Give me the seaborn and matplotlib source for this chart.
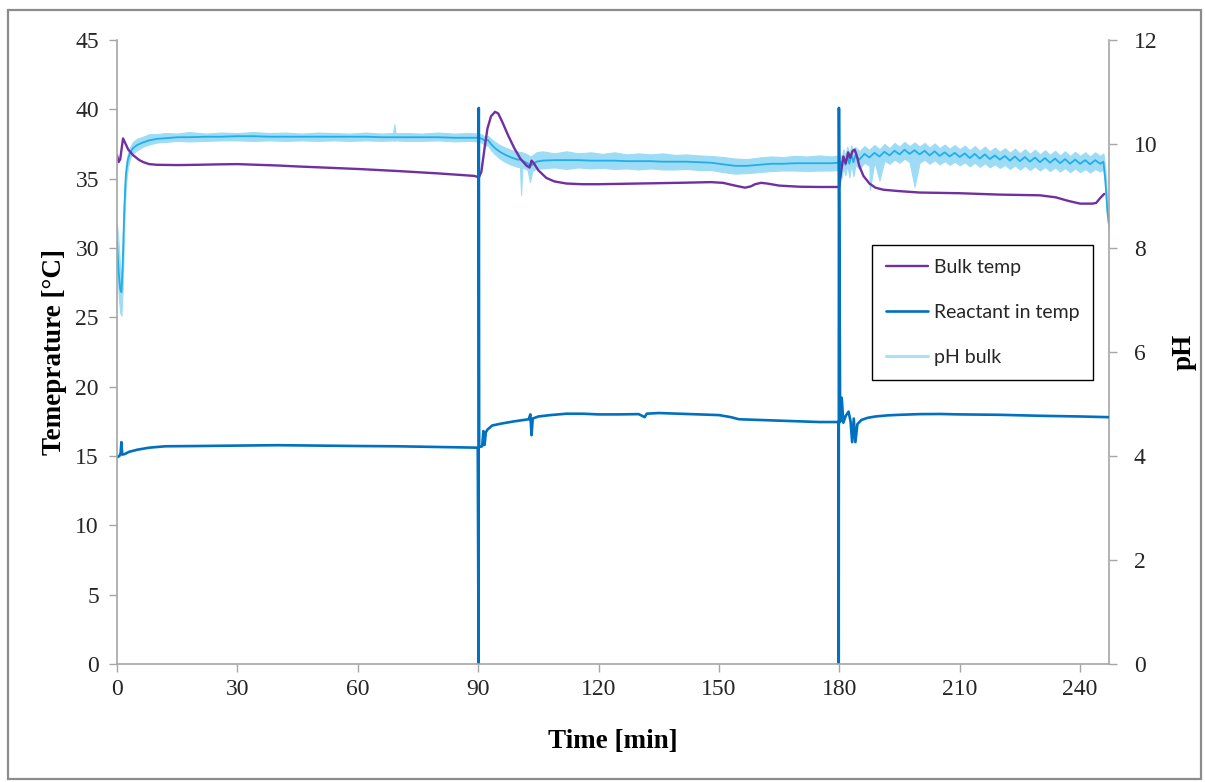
import numpy as np
import pandas as pd
import matplotlib
matplotlib.use("Agg")
import matplotlib.pyplot as plt
from matplotlib.lines import Line2D
from matplotlib.patches import Rectangle
import seaborn as sns

# ---------------- data ----------------
# Bulk temperature [°C]
bulk_time = [0, 0.4, 0.8, 1.5, 2.0, 2.8, 4.0, 5.5, 6.5, 8, 10, 15, 20, 25, 30, 35, 40, 45,
             50, 60, 70, 80, 89, 90.2, 90.8, 91.5, 92.3, 93.2, 94.2, 95.0, 96, 97.5, 99,
             100.5, 102, 102.8, 103.3, 103.9, 105, 107, 109, 112, 116, 120, 130, 140, 148,
             151, 154, 156.5, 158, 159, 160.5, 162, 165, 170, 175, 180, 180.4, 181, 181.6,
             182.2, 182.7, 183.3, 183.8, 184.3, 185, 186, 187.5, 189, 191, 195, 200, 210,
             220, 230, 234, 237, 240, 243, 244, 245, 246]
bulk_temp = [36.7, 36.2, 36.4, 37.9, 37.6, 37.1, 36.7, 36.35, 36.2, 36.05, 36.0, 35.98, 36.0,
             36.03, 36.05, 36.0, 35.95, 35.88, 35.82, 35.7, 35.55, 35.38, 35.2, 35.1, 35.5,
             37.0, 38.6, 39.5, 39.82, 39.7, 39.1, 38.1, 37.2, 36.45, 35.95, 35.8, 36.3, 36.1,
             35.6, 35.05, 34.8, 34.65, 34.6, 34.6, 34.65, 34.7, 34.75, 34.7, 34.5, 34.35,
             34.45, 34.6, 34.7, 34.65, 34.5, 34.42, 34.4, 34.4, 35.4, 36.6, 36.1, 36.9, 36.5,
             37.0, 37.1, 36.7, 35.9, 35.2, 34.65, 34.35, 34.2, 34.1, 34.0, 33.95, 33.85,
             33.8, 33.65, 33.4, 33.2, 33.2, 33.25, 33.6, 33.9]

# Reactant inlet temperature [°C] (sensor dropouts at 90 and 180 min)
react_time = [0, 0.6, 0.9, 1.1, 1.3, 2, 3, 5, 8, 12, 20, 30, 40, 50, 60, 70, 80, 89.9,
              90.1, 90.15, 90.25, 91.0, 91.3, 91.6, 91.9, 92.3, 93.5, 96, 99, 102.6, 103.0,
              103.3, 103.6, 105, 108, 112, 116, 120, 125, 130, 131.5, 132, 135, 140, 145,
              150, 153, 155, 160, 165, 170, 175, 179.8, 179.85, 179.9, 180.2, 180.6, 181.0,
              181.6, 182.3, 182.8, 183.2, 183.6, 184.0, 184.5, 185.5, 187, 189, 192, 195,
              200, 205, 210, 220, 230, 240, 247.2]
react_temp = [14.9, 15.0, 15.2, 16.0, 15.1, 15.15, 15.3, 15.45, 15.6, 15.7, 15.72, 15.75,
              15.78, 15.75, 15.72, 15.7, 15.65, 15.6, 0.0, 40.1, 15.65, 15.7, 16.8, 15.8,
              16.7, 16.9, 17.2, 17.35, 17.5, 17.65, 18.0, 16.5, 17.7, 17.85, 17.95, 18.05,
              18.05, 18.0, 18.0, 18.02, 17.8, 18.05, 18.1, 18.05, 18.0, 17.95, 17.8, 17.65,
              17.6, 17.55, 17.5, 17.45, 17.45, 0.0, 40.1, 17.45, 19.2, 17.4, 17.9, 18.2,
              17.5, 16.0, 17.7, 16.0, 17.3, 17.6, 17.75, 17.85, 17.93, 17.97, 18.02, 18.03,
              18.0, 17.97, 17.9, 17.85, 17.8]

# pH in the bulk: smoothed reading with the min / max of the raw signal
ph_time = [0.0, 0.4, 0.8, 1.1, 1.4, 1.8, 2.2, 2.7, 3.3, 4.0, 5.0, 6.5, 8.0, 10, 12, 15, 18,
           22, 26, 30, 34, 38, 42, 46, 50, 54, 58, 62, 66, 68.8, 69.1, 69.4, 72, 76, 80, 84,
           88, 90, 91, 91.7, 92.4, 93.2, 94.2, 95.4, 96.8, 98.3, 99.8, 100.4, 100.7, 101.0,
           102.3, 102.9, 103.5, 104.5, 106, 109, 112, 115, 118, 121, 124, 127, 130, 133,
           136, 139, 142, 145, 148, 151, 154, 157, 160, 163, 166, 169, 172, 175, 178, 179.8,
           180.2, 180.6, 181.0, 181.5, 182.0, 182.5, 183.0, 183.5, 184.0, 185.0, 186.25,
           187.5, 187.6, 188.75, 190.0, 191.25, 192.5, 193.75, 195.0, 196.25, 197.5, 198.75,
           200.0, 201.25, 202.5, 203.75, 205.0, 206.25, 207.5, 208.75, 210.0, 211.25, 212.5,
           213.75, 215.0, 216.25, 217.5, 218.75, 220.0, 221.25, 222.5, 223.75, 225.0,
           226.25, 227.5, 228.75, 230.0, 231.25, 232.5, 233.75, 235.0, 236.25, 237.5,
           238.75, 240.0, 241.25, 242.5, 243.75, 245.0, 245.8, 246.3, 246.8, 247.2]
ph_mid = [8.10, 7.55, 7.20, 7.15, 7.60, 8.70, 9.40, 9.70, 9.84, 9.92, 9.98, 10.03, 10.07,
          10.10, 10.11, 10.13, 10.13, 10.14, 10.14, 10.15, 10.15, 10.14, 10.14, 10.14, 10.14,
          10.14, 10.14, 10.14, 10.13, 10.13, 10.13, 10.13, 10.13, 10.13, 10.13, 10.12, 10.12,
          10.12, 10.10, 10.06, 10.08, 10.00, 9.92, 9.85, 9.79, 9.74, 9.70, 9.70, 9.69, 9.68,
          9.63, 9.57, 9.60, 9.66, 9.68, 9.69, 9.69, 9.69, 9.68, 9.68, 9.68, 9.67, 9.67, 9.67,
          9.66, 9.66, 9.66, 9.65, 9.64, 9.61, 9.58, 9.58, 9.60, 9.62, 9.62, 9.63, 9.63, 9.63,
          9.63, 9.64, 9.66, 9.55, 9.74, 9.60, 9.78, 9.62, 9.80, 9.65, 9.78, 9.70, 9.81, 9.74,
          9.75, 9.83, 9.76, 9.85, 9.78, 9.87, 9.80, 9.89, 9.81, 9.88, 9.80, 9.87, 9.78, 9.86,
          9.77, 9.84, 9.76, 9.83, 9.75, 9.82, 9.73, 9.81, 9.72, 9.80, 9.71, 9.78, 9.70, 9.77,
          9.68, 9.76, 9.67, 9.75, 9.66, 9.74, 9.65, 9.73, 9.64, 9.72, 9.63, 9.71, 9.62, 9.70,
          9.62, 9.69, 9.61, 9.69, 9.62, 9.66, 9.30, 8.70, 8.45]
ph_low = [7.80, 7.10, 6.75, 6.70, 7.20, 8.40, 9.20, 9.55, 9.74, 9.82, 9.88, 9.95, 9.99,
          10.03, 10.04, 10.06, 10.05, 10.06, 10.07, 10.07, 10.06, 10.07, 10.06, 10.07, 10.06,
          10.07, 10.06, 10.07, 10.06, 10.07, 10.06, 10.07, 10.06, 10.06, 10.07, 10.05, 10.06,
          10.05, 10.02, 9.96, 9.98, 9.88, 9.80, 9.72, 9.65, 9.60, 9.56, 9.56, 9.02, 9.55,
          9.50, 9.27, 9.48, 9.53, 9.53, 9.55, 9.52, 9.55, 9.53, 9.54, 9.52, 9.53, 9.51, 9.53,
          9.51, 9.51, 9.52, 9.50, 9.50, 9.46, 9.43, 9.44, 9.46, 9.48, 9.49, 9.49, 9.48, 9.49,
          9.49, 9.50, 9.52, 9.35, 9.55, 9.40, 9.60, 9.36, 9.62, 9.38, 9.60, 9.52, 9.64, 9.58,
          9.12, 9.66, 9.30, 9.68, 9.62, 9.70, 9.64, 9.72, 9.65, 9.18, 9.64, 9.70, 9.62, 9.69,
          9.61, 9.67, 9.60, 9.66, 9.59, 9.65, 9.57, 9.64, 9.56, 9.63, 9.55, 9.61, 9.54, 9.60,
          9.52, 9.59, 9.51, 9.58, 9.50, 9.57, 9.49, 9.56, 9.48, 9.55, 9.47, 9.54, 9.46, 9.53,
          9.46, 9.52, 9.45, 9.52, 9.47, 9.52, 9.10, 8.55, 8.35]
ph_high = [8.45, 8.10, 7.60, 7.50, 8.10, 9.10, 9.60, 9.82, 9.95, 10.04, 10.10, 10.14, 10.19,
           10.19, 10.21, 10.20, 10.23, 10.20, 10.22, 10.21, 10.23, 10.21, 10.22, 10.20, 10.22,
           10.21, 10.20, 10.22, 10.20, 10.21, 10.38, 10.21, 10.21, 10.20, 10.22, 10.20, 10.21,
           10.20, 10.18, 10.14, 10.16, 10.10, 10.04, 9.98, 9.93, 9.88, 9.86, 9.84, 9.85, 9.84,
           9.80, 9.76, 9.78, 9.84, 9.86, 9.82, 9.86, 9.82, 9.84, 9.81, 9.84, 9.80, 9.82, 9.80,
           9.82, 9.79, 9.80, 9.78, 9.77, 9.75, 9.72, 9.71, 9.74, 9.76, 9.75, 9.77, 9.76, 9.78,
           9.76, 9.78, 9.80, 9.72, 9.90, 9.78, 9.95, 9.80, 9.97, 9.82, 9.94, 9.86, 9.96, 9.88,
           9.90, 9.98, 9.90, 10.00, 9.92, 10.02, 9.95, 10.04, 9.96, 10.03, 9.95, 10.02, 9.93,
           10.01, 9.92, 9.99, 9.91, 9.98, 9.90, 9.97, 9.88, 9.96, 9.87, 9.95, 9.86, 9.93,
           9.85, 9.92, 9.83, 9.91, 9.82, 9.90, 9.81, 9.89, 9.80, 9.88, 9.79, 9.87, 9.78,
           9.86, 9.77, 9.85, 9.77, 9.84, 9.76, 9.84, 9.77, 9.82, 9.50, 8.85, 8.55]

x_ticks = [0, 30, 60, 90, 120, 150, 180, 210, 240]
temp_ticks = [0, 5, 10, 15, 20, 25, 30, 35, 40, 45]
ph_ticks = [0, 2, 4, 6, 8, 10, 12]

# ---------------- style ----------------
sns.set_style("white")
plt.rcParams["font.family"] = ["Liberation Serif", "DejaVu Serif"]

PURPLE = "#7030A0"
BLUE = "#0070C0"
PH_LINE = "#22AEE8"
PH_BAND = "#9EDCF6"
PH_LEGEND = "#A9E1F6"
AXIS_GREY = "#A6A6A6"
TEXT = "#262626"

fig = plt.figure(figsize=(12.05, 7.82), dpi=100)
W, H = 1205, 782
ax = fig.add_axes([117 / W, 1 - 664 / H, (1109 - 117) / W, (664 - 40) / H])
ax2 = ax.twinx()

# pH on the secondary axis (min/max band of raw readings, median trace)
ph_long = pd.concat([
    pd.DataFrame({"t": ph_time, "pH": ph_low}),
    pd.DataFrame({"t": ph_time, "pH": ph_mid}),
    pd.DataFrame({"t": ph_time, "pH": ph_high}),
], ignore_index=True)
sns.lineplot(data=ph_long, x="t", y="pH", ax=ax2, estimator="median",
             errorbar=("pi", 100), color=PH_LINE, linewidth=1.3,
             err_kws={"alpha": 1.0, "linewidth": 0.8})
for coll in ax2.collections:
    coll.set_facecolor(PH_BAND)
    coll.set_edgecolor(PH_BAND)

# temperatures on the primary axis
sns.lineplot(x=bulk_time, y=bulk_temp, ax=ax, estimator=None, sort=False,
             color=PURPLE, linewidth=1.7)
sns.lineplot(x=react_time, y=react_temp, ax=ax, estimator=None, sort=False,
             color=BLUE, linewidth=1.9)

ax.set_zorder(ax2.get_zorder() + 1)
ax.patch.set_visible(False)

ax.set_xlim(0, 247.2)
ax.set_ylim(0, 45)
ax2.set_ylim(0, 12)
ax.set_xticks(x_ticks)
ax.set_yticks(temp_ticks)
ax2.set_yticks(ph_ticks)

for a in (ax, ax2):
    for side in ("left", "right", "bottom", "top"):
        a.spines[side].set_visible(False)
ax.spines["left"].set_visible(True)
ax.spines["bottom"].set_visible(True)
ax2.spines["right"].set_visible(True)
for sp in (ax.spines["left"], ax.spines["bottom"], ax2.spines["right"]):
    sp.set_color(AXIS_GREY)
    sp.set_linewidth(1.2)

ax.tick_params(axis="both", direction="out", length=6, width=1.0, color=AXIS_GREY,
               labelsize=17, labelcolor=TEXT, pad=6)
ax.tick_params(axis="y", left=True, pad=7)
ax.tick_params(axis="x", bottom=True, pad=5)
ax2.tick_params(axis="y", direction="out", length=6, width=1.0, color=AXIS_GREY,
                labelsize=17, labelcolor=TEXT, right=True, pad=12)
ax.grid(False)
ax2.grid(False)

ax.set_xlabel("Time [min]", fontsize=19.5, fontweight="bold", color="black", labelpad=21)
ax.set_ylabel("Temeprature [°C]", fontsize=19.5, fontweight="bold", color="black",
              labelpad=6)
ax2.set_ylabel("pH", fontsize=19.5, fontweight="bold", color="black", rotation=90,
               labelpad=10)

handles = [
    Line2D([], [], color=PURPLE, linewidth=1.7),
    Line2D([], [], color=BLUE, linewidth=1.9),
    Line2D([], [], color=PH_LEGEND, linewidth=2.2),
]
leg = ax.legend(handles, ["Bulk temp", "Reactant in temp", "pH bulk"],
                loc="upper left", bbox_to_anchor=((872 - 117) / 992, (664 - 245) / 624),
                frameon=True, fancybox=False, edgecolor="black", framealpha=1,
                handlelength=2.2, handletextpad=0.3, labelspacing=1.45,
                borderpad=0.7, borderaxespad=0,
                prop={"family": ["Lato", "DejaVu Sans"], "size": 14})
leg.get_frame().set_linewidth(1.0)
for t in leg.get_texts():
    t.set_color(TEXT)

# outer chart frame
fig.patches.append(Rectangle((8 / W, 3 / H), (1201 - 8) / W, (772 - 3) / H,
                             transform=fig.transFigure, fill=False,
                             edgecolor="#8C8C8C", linewidth=1.6))

fig.savefig("out.png", dpi=100)
